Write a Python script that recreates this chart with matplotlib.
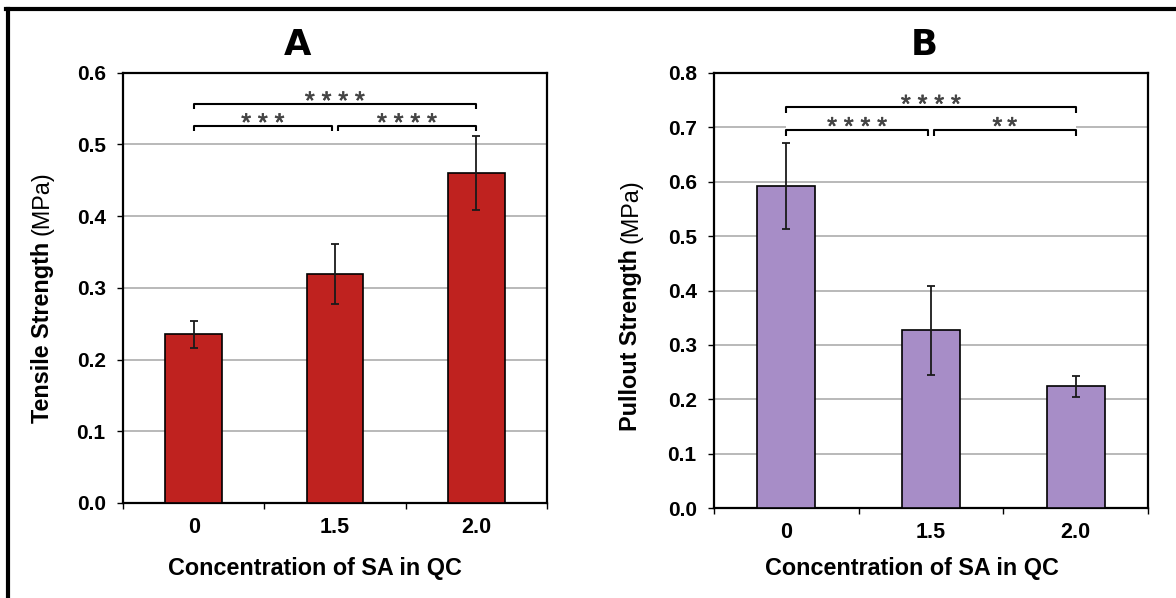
import matplotlib
matplotlib.use("Agg")
import matplotlib.pyplot as plt
import matplotlib.patheffects as pe
import numpy as np
from matplotlib.lines import Line2D
from matplotlib.patches import Rectangle

plt.rcParams['font.family'] = ['Liberation Sans', 'DejaVu Sans']

# data
categories = ['0', '1.5', '2.0']
tensile_mean = [0.235, 0.319, 0.460]
tensile_err = [0.019, 0.042, 0.052]
pullout_mean = [0.593, 0.327, 0.224]
pullout_err = [0.079, 0.082, 0.019]

# significance comparisons: (from, to, stars)
tensile_sig = [(0, 1, '* * *'), (1, 2, '* * * *'), (0, 2, '* * * *')]
pullout_sig = [(0, 1, '* * * *'), (1, 2, '*\u2009*'), (0, 2, '* * * *')]

W, H = 1176, 598
fig = plt.figure(figsize=(W / 100, H / 100), dpi=100)
fig.patch.set_facecolor('white')


def px(x, y):
    # pixel coords (from top-left) -> figure fraction
    return x / W, 1 - y / H


def draw_panel(ax, means, errs, color, ymax, sig, levels, drop):
    x = np.arange(len(categories))
    ax.bar(x, means, 0.4, color=color, edgecolor='black', linewidth=1.2,
           yerr=errs, capsize=3.2, zorder=3,
           error_kw=dict(elinewidth=1.3, capthick=1.3, ecolor='#1a1a1a', zorder=4))
    ax.set_xlim(-0.5, 2.5)
    ax.set_ylim(0, ymax)
    yt = np.round(np.arange(0, ymax + 0.001, 0.1), 1)
    ax.set_yticks(yt)
    ax.set_yticklabels([f'{v:.1f}' for v in yt], fontweight='bold', fontsize=15)
    ax.set_xticks(x)
    ax.set_xticklabels(categories, fontweight='bold', fontsize=15.5)
    ax.set_xticks([-0.5, 0.5, 1.5, 2.5], minor=True)
    ax.tick_params(axis='x', which='major', length=0, pad=10)
    ax.tick_params(axis='x', which='minor', length=4, width=1, direction='out')
    ax.tick_params(axis='y', length=4.5, width=1, direction='out', pad=8)
    ax.yaxis.grid(True, color='#a6a6a6', linewidth=1.1)
    ax.set_axisbelow(True)
    for s in ax.spines.values():
        s.set_linewidth(1.6)

    # significance brackets
    for (a, b, stars), y in zip(sig, levels):
        x0 = a + (0.02 if a == 1 else 0)
        x1 = b - (0.02 if b == 1 else 0)
        ax.plot([x0, x0, x1, x1], [y - drop, y, y, y - drop], color='black',
                lw=1.5, zorder=5, solid_capstyle='butt')
        ax.annotate(stars, xy=((x0 + x1) / 2, y), xytext=(0, -3.5),
                    textcoords='offset points', ha='center', va='baseline',
                    fontsize=18, color='#444444', zorder=6,
                    path_effects=[pe.withStroke(linewidth=0.5, foreground='#444444')])


axA = fig.add_axes([123 / W, 1 - 503 / H, 424 / W, (503 - 72.7) / H])
draw_panel(axA, tensile_mean, tensile_err, '#bf221f', 0.6, tensile_sig,
           [0.526, 0.526, 0.5565], 0.007)

axB = fig.add_axes([714 / W, 1 - 508 / H, 434 / W, (508 - 73) / H])
# white patch that hides the gridline behind the brackets
axB.add_patch(Rectangle((0, 0.688), 2, 0.02, facecolor='white', edgecolor='none', zorder=2))
draw_panel(axB, pullout_mean, pullout_err, '#a78dc7', 0.8, pullout_sig,
           [0.696, 0.696, 0.737], 0.011)

# panel letters
fig.text(*px(298, 55), 'A', ha='center', va='baseline', fontsize=25.5, fontweight='bold',
         family='DejaVu Sans')
fig.text(*px(924, 55), 'B', ha='center', va='baseline', fontsize=25.5, fontweight='bold',
         family='DejaVu Sans')

# x labels
fig.text(*px(315, 575), 'Concentration of SA in QC', ha='center', va='baseline',
         fontsize=16.8, fontweight='bold')
fig.text(*px(912, 575), 'Concentration of SA in QC', ha='center', va='baseline',
         fontsize=16.8, fontweight='bold')

# y labels: bold name + regular unit
renderer = fig.canvas.get_renderer()


def ylabel(xb, y0, bold, regular, size=16.8):
    t1 = fig.text(*px(xb, y0), bold, rotation=90, rotation_mode='anchor',
                  ha='left', va='baseline', fontsize=size, fontweight='bold')
    length = t1.get_window_extent(renderer).height
    fig.text(*px(xb, y0 - length - 0.278 * size * 100 / 72), regular, rotation=90,
             rotation_mode='anchor', ha='left', va='baseline', fontsize=size)


ylabel(48.5, 423, 'Tensile Strength', '(MPa)')
ylabel(637, 431, 'Pullout Strength', '(MPa)')

# outer frame (top and left edges only)
fig.add_artist(Line2D([8 / W, 8 / W], [0, 1 - 9 / H], transform=fig.transFigure,
                      color='black', lw=3))
fig.add_artist(Line2D([8 / W - 0.0013, 1], [1 - 9 / H, 1 - 9 / H], transform=fig.transFigure,
                      color='black', lw=3))

fig.savefig('out.png', dpi=100)
